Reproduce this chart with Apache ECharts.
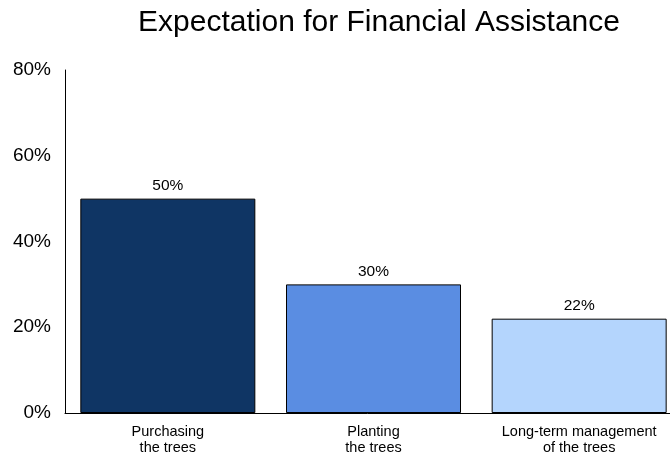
<!DOCTYPE html>
<html>
<head>
<meta charset="utf-8">
<script src="https://cdn.jsdelivr.net/npm/echarts@6/dist/echarts.min.js"></script>
<style>
  html, body { margin: 0; padding: 0; background: #ffffff; }
  #chart { width: 670px; height: 457px; }
</style>
</head>
<body>
<div id="chart"></div>
<script>
// Share of respondents expecting each kind of financial help
const categories = ['Purchasing\nthe trees', 'Planting\nthe trees', 'Long-term management\nof the trees'];
const values = [50, 30, 22];
const barColors = ['#0f3564', '#5a8de2', '#b4d5fd'];
const yTicks = [0, 20, 40, 60, 80];

const FONT = '"Liberation Sans", Arial, sans-serif';

const chart = echarts.init(document.getElementById('chart'), null, { renderer: 'canvas' });

chart.setOption({
  backgroundColor: '#ffffff',
  animation: false,
  title: {
    text: 'Expectation for Financial Assistance',
    left: 374,
    top: 3,
    textAlign: 'center',
    textStyle: { fontFamily: FONT, fontSize: 30, fontWeight: 'normal', color: '#000000' }
  },
  // the plot runs slightly past the right edge of the canvas
  grid: {
    left: 65, width: 617, top: 70, height: 343,
    containLabel: false, outerBoundsMode: 'none'
  },
  xAxis: {
    type: 'category',
    data: categories,
    axisLine: { show: true, lineStyle: { color: '#000000', width: 1 } },
    axisTick: { show: false },
    axisLabel: {
      fontFamily: FONT, fontSize: 14.5, color: '#000000',
      lineHeight: 16, margin: 11, interval: 0
    },
    splitLine: { show: false }
  },
  yAxis: {
    type: 'value',
    min: yTicks[0],
    max: yTicks[yTicks.length - 1],
    interval: 20,
    axisLine: { show: true, lineStyle: { color: '#000000', width: 1 } },
    axisTick: { show: false },
    splitLine: { show: false },
    axisLabel: {
      fontFamily: FONT, fontSize: 19, color: '#000000', margin: 14,
      formatter: v => v + '%'
    }
  },
  series: [{
    type: 'bar',
    barWidth: 175,
    data: values.map((v, i) => ({
      value: v,
      itemStyle: { color: barColors[i], borderColor: '#000000', borderWidth: 1 }
    })),
    label: {
      show: true,
      position: 'top',
      distance: 5,
      fontFamily: FONT, fontSize: 15.5, color: '#000000',
      formatter: p => p.value + '%'
    }
  }]
});
</script>
</body>
</html>
